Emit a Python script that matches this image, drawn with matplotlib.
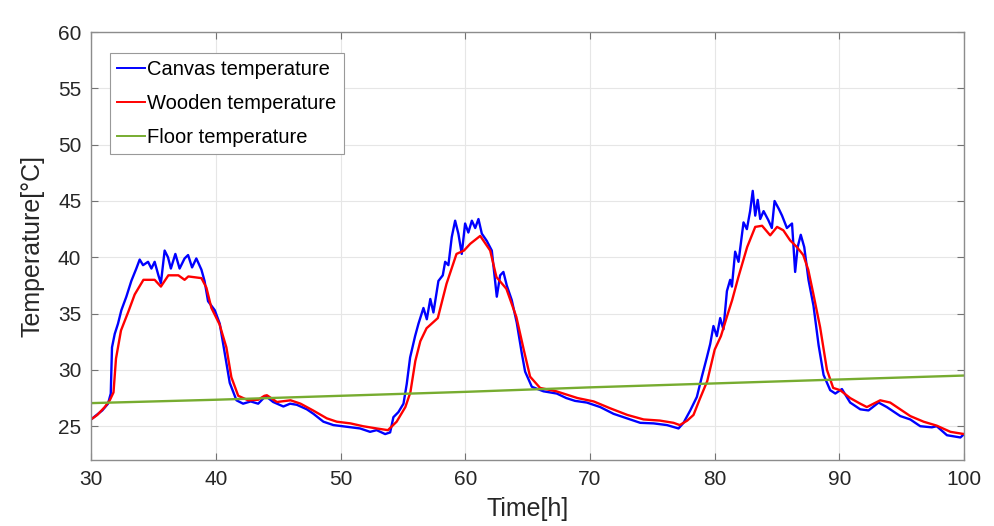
import matplotlib
matplotlib.use("Agg")
import matplotlib.pyplot as plt

plt.rcParams['font.family'] = ['Liberation Sans', 'DejaVu Sans']

# wooden frame temperature
wood_t = [30.0, 30.5, 31.1, 31.5, 31.8, 32.0, 32.4, 33.0, 33.5, 34.2, 35.1, 35.6, 36.2, 37.0,
          37.5, 37.8, 38.85, 39.25, 39.65, 40.3, 40.85, 41.25, 41.8, 42.6, 43.4, 43.9, 44.1,
          44.9, 46.0, 46.8, 47.8, 48.9, 49.7, 50.8, 51.8, 52.9, 53.8, 54.5, 55.2, 55.6, 56.0,
          56.4, 56.9, 57.8, 58.5, 59.3, 59.9, 60.4, 61.2, 62.0, 62.5, 63.3, 64.1, 64.7, 65.2,
          66.0, 67.3, 69.0, 70.3, 71.6, 73.0, 74.3, 75.6, 76.7, 77.2, 77.8, 78.3, 78.8, 79.4,
          80.0, 80.5, 81.0, 81.4, 81.9, 82.6, 83.25, 83.8, 84.45, 85.0, 85.5, 86.05, 86.6,
          87.1, 87.5, 87.9, 88.45, 89.0, 89.5, 90.06, 90.86, 91.67, 92.2, 93.27, 94.07, 95.68,
          96.75, 97.8, 98.9, 100.0]
wood_T = [25.6, 26.0, 26.7, 27.3, 28.0, 31.0, 33.5, 35.2, 36.7, 38.0, 38.0, 37.4, 38.4, 38.4,
          38.0, 38.3, 38.15, 37.3, 35.5, 34.05, 32.0, 29.35, 27.7, 27.3, 27.35, 27.7, 27.75,
          27.15, 27.3, 27.0, 26.4, 25.7, 25.4, 25.25, 25.0, 24.8, 24.65, 25.4, 26.7, 28.0, 30.8,
          32.55, 33.7, 34.6, 37.65, 40.3, 40.6, 41.2, 41.9, 40.6, 38.25, 37.2, 34.7, 31.75, 29.4,
          28.4, 28.1, 27.5, 27.2, 26.6, 26.0, 25.6, 25.5, 25.3, 25.1, 25.5, 26.0, 27.4, 29.0,
          31.8, 33.0, 34.8, 36.2, 38.25, 40.9, 42.7, 42.8, 41.95, 42.7, 42.4, 41.5, 40.9,
          40.2, 38.9, 36.8, 33.8, 30.0, 28.4, 28.2, 27.5, 27.0, 26.7, 27.3, 27.1, 25.9,
          25.4, 25.05, 24.5, 24.3]

# canvas temperature
canvas_t = [30.0, 30.9, 31.36, 31.58, 31.68, 31.9, 32.16, 32.43, 32.83, 33.23, 33.63, 33.9,
            34.17, 34.57, 34.84, 35.1, 35.4, 35.6, 35.9, 36.17, 36.4, 36.76, 37.1, 37.5, 37.78,
            38.1, 38.44, 38.85, 39.1, 39.38, 39.92, 40.32, 40.72, 41.12, 41.66, 42.19, 42.8,
            43.4, 43.93, 44.09, 44.6, 45.42, 45.96, 46.5, 47.3, 47.83, 48.63, 49.43, 50.5,
            51.57, 52.37, 52.9, 53.58, 53.98, 54.24, 54.64, 55.05, 55.31, 55.58, 55.98, 56.25,
            56.65, 56.92, 57.2, 57.45, 57.85, 58.2, 58.39, 58.65, 58.92, 59.19, 59.45, 59.72,
            59.99, 60.25, 60.53, 60.8, 61.06, 61.33, 61.73, 62.13, 62.53, 62.8, 63.06, 63.33,
            63.73, 64.13, 64.53, 64.8, 65.34, 66.27, 67.34, 68.1, 68.8, 69.75, 70.82, 71.89,
            72.96, 74.03, 75.1, 76.17, 77.1, 77.5, 78.04, 78.57, 78.97, 79.37, 79.64, 79.9,
            80.17, 80.44, 80.7, 80.98, 81.24, 81.38, 81.64, 81.91, 82.31, 82.58, 82.84, 83.05,
            83.25, 83.45, 83.65, 83.92, 84.3, 84.58, 84.8, 85.14, 85.4, 85.79, 86.2, 86.45,
            86.65, 86.9, 87.18, 87.52, 87.92, 88.33, 88.73, 89.26, 89.67, 90.2, 90.86, 91.67,
            92.33, 93.14, 93.8, 94.88, 95.68, 96.48, 97.41, 97.8, 98.62, 99.7, 100.0]
canvas_T = [25.6, 26.4, 27.0, 27.9, 32.0, 33.2, 34.1, 35.3, 36.5, 37.9, 39.0, 39.8,
            39.3, 39.6, 39.0, 39.6, 38.4, 37.7, 40.6, 40.0, 39.0, 40.3, 39.0, 39.9, 40.2,
            39.1, 39.9, 38.9, 37.9, 36.1, 35.3, 34.1, 31.5, 28.85, 27.3, 27.0, 27.2,
            27.0, 27.6, 27.6, 27.15, 26.75, 27.0, 26.9, 26.5, 26.1, 25.4, 25.1, 24.95,
            24.8, 24.5, 24.65, 24.3, 24.45, 25.8, 26.25, 27.0, 28.75, 31.1, 33.0, 34.1,
            35.5, 34.5, 36.3, 35.1, 37.9, 38.4, 39.6, 39.3, 41.8, 43.25, 42.1, 40.3,
            43.0, 42.2, 43.25, 42.6, 43.4, 42.1, 41.45, 40.6, 36.5, 38.4, 38.7, 37.5,
            36.2, 34.2, 31.5, 29.85, 28.5, 28.1, 27.9, 27.5, 27.25, 27.1, 26.7, 26.1,
            25.7, 25.3, 25.25, 25.1, 24.8, 25.3, 26.4, 27.6, 29.4, 31.1, 32.3, 33.9,
            33.0, 34.6, 33.6, 37.0, 38.0, 37.4, 40.5, 39.6, 43.1, 42.5, 44.1, 45.9,
            43.7, 45.1, 43.4, 44.1, 43.3, 42.6, 45.0, 44.3, 43.7, 42.6, 43.0, 38.7,
            40.9, 42.0, 40.9, 38.0, 35.7, 32.2, 29.55, 28.2, 27.9, 28.3, 27.1, 26.5,
            26.4, 27.1, 26.7, 25.9, 25.6, 25.0, 24.9, 25.0, 24.2, 24.0, 24.3]

# floor temperature
floor_t = [30, 40, 50, 60, 70, 80, 90, 100]
floor_T = [27.05, 27.35, 27.7, 28.05, 28.45, 28.8, 29.15, 29.5]

xticks = [30, 40, 50, 60, 70, 80, 90, 100]
yticks = [25, 30, 35, 40, 45, 50, 55, 60]

fig = plt.figure(figsize=(9.95, 5.26), dpi=100)
ax = fig.add_axes([0.0915, 0.1255, 0.8775, 0.8135])

ax.plot(canvas_t, canvas_T, color=(0, 0, 1), lw=1.7, label='Canvas temperature')
ax.plot(wood_t, wood_T, color=(1, 0, 0), lw=1.7, label='Wooden temperature')
ax.plot(floor_t, floor_T, color=(0.466, 0.674, 0.188), lw=1.7, label='Floor temperature')

ax.set_xlim(30, 100)
ax.set_ylim(22, 60)
ax.set_xticks(xticks)
ax.set_yticks(yticks)
ax.grid(True, color='0.9', lw=0.8)
ax.set_axisbelow(True)
ax.tick_params(direction='in', top=True, right=True, length=5, width=0.8,
               color='0.45', labelsize=15, labelcolor='0.15', pad=7)
for s in ax.spines.values():
    s.set_color('0.55')
    s.set_linewidth(1.0)

ax.set_xlabel('Time[h]', fontsize=18, color='0.15', labelpad=6)
ax.set_ylabel('Temperature[°C]', fontsize=18, color='0.15', labelpad=10)

leg = ax.legend(loc='upper left', bbox_to_anchor=(0.0218, 0.951), fontsize=14.5,
                handlelength=1.4, handletextpad=0.1, borderpad=0.35, labelspacing=0.75,
                fancybox=False, framealpha=1, edgecolor='0.6', borderaxespad=0)
leg.get_frame().set_linewidth(0.8)
for h in leg.get_lines():
    h.set_linewidth(1.4)

fig.savefig('out.png', dpi=100)
